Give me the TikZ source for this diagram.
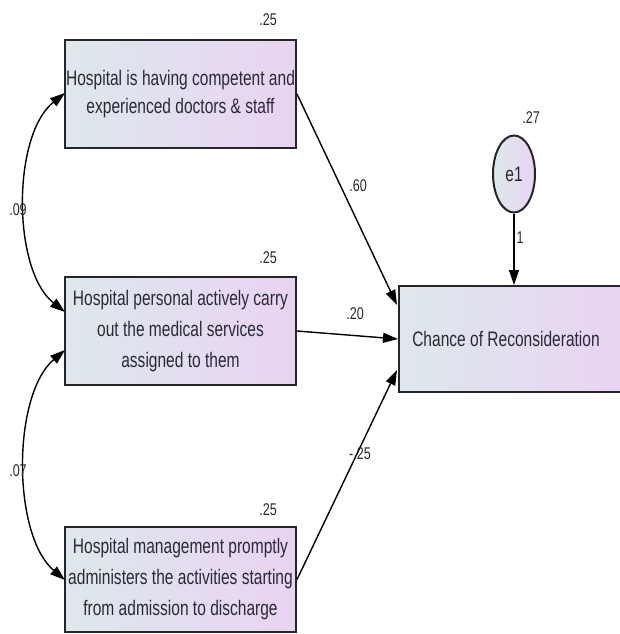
\documentclass[tikz,border=0pt]{standalone}
\usepackage{fontspec}
\setmainfont[FakeStretch=0.74]{Liberation Sans}
\usetikzlibrary{arrows.meta,shapes.geometric}
\definecolor{gl}{HTML}{DDE8EC}
\definecolor{gr}{HTML}{E9D3F3}
\definecolor{txt}{HTML}{2A2A35}
\tikzset{
  var/.style={draw=black!85, line width=2pt, left color=gl, right color=gr,
    text=txt, align=center, font=\fontsize{21}{31}\selectfont, inner sep=0pt},
  lab/.style={text=txt, font=\fontsize{17}{17}\selectfont, inner sep=0pt},
  arr/.style={line width=1.4pt, -{Triangle[length=15pt,width=10pt]}},
  darr/.style={line width=1.4pt, {Triangle[length=15pt,width=10pt]}-{Triangle[length=15pt,width=10pt]}}
}
\begin{document}
\begin{tikzpicture}[x=1pt,y=-1pt]
\useasboundingbox (0,0) rectangle (620,634);
\node[var, minimum width=231pt, minimum height=107pt, font=\fontsize{21}{28}\selectfont] (b1) at (180.5,94)
  {Hospital is having competent and\\experienced doctors \& staff};
\node[var, minimum width=231pt, minimum height=108pt] (b2) at (180.5,331)
  {Hospital personal actively carry\\out the medical services\\assigned to them};
\node[var, minimum width=231pt, minimum height=105pt] (b3) at (180.5,579.5)
  {Hospital management promptly\\administers the activities starting\\from admission to discharge};
\node[var, minimum width=226pt, minimum height=106pt, anchor=west] (b4) at (398,339)
  {Chance of Reconsideration\hspace*{12pt}};
\node[ellipse, draw=black!85, line width=2pt, left color=gl, right color=gr,
  minimum width=42pt, minimum height=77pt, inner sep=0pt, text=txt,
  font=\fontsize{21}{21}\selectfont] (e1) at (514,174) {e1};
\coordinate (t1) at (397,305);
\coordinate (t3) at (397,370);
\draw[arr] (b1.east) -- (t1);
\draw[arr] (b2.east) -- (b4.west);
\draw[arr] (b3.east) -- (t3);
\draw[arr] (e1.south) -- (b4.north -| e1.south);
\coordinate (c1) at (65,93);
\coordinate (c2) at (65,312);
\coordinate (c3) at (65,350);
\coordinate (c4) at (65,580);
\draw[darr] (c1) .. controls (12,135) and (12,270) .. (c2);
\draw[darr] (c3) .. controls (12,395) and (12,535) .. (c4);
\node[lab] (l1) at (268,20) {.25};
\node[lab] (l2) at (268,258) {.25};
\node[lab] (l3) at (268,510) {.25};
\node[lab] (l4) at (531,118) {.27};
\node[lab] (l5) at (358,186) {.60};
\node[lab] (l6) at (355,314) {.20};
\node[lab] (l7) at (360,454) {-.25};
\node[lab] (l8) at (18,210) {.09};
\node[lab] (l9) at (18,471) {.07};
\node[lab] (l10) at (520,238) {1};
\end{tikzpicture}
\end{document}
